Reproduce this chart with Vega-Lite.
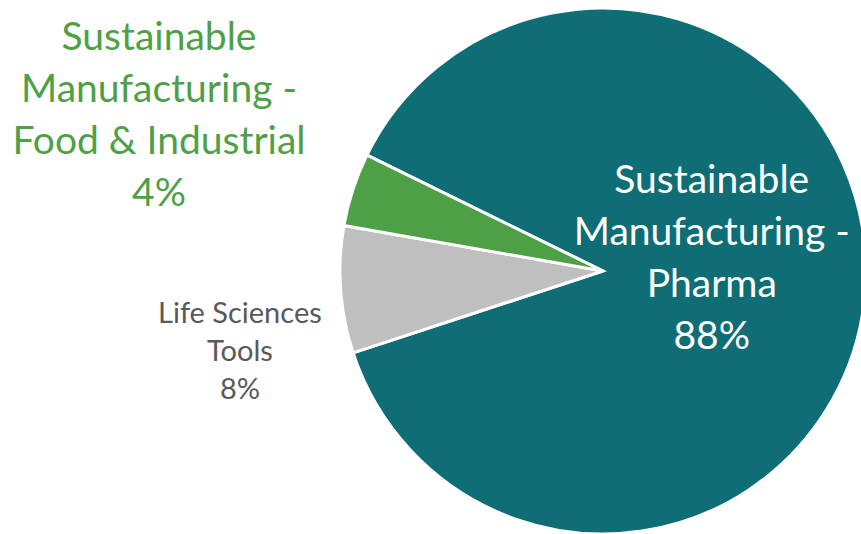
{
  "$schema": "https://vega.github.io/schema/vega-lite/v6.json",
  "width": 516,
  "height": 516,
  "autosize": {"type": "none"},
  "padding": {"left": 345, "top": 13, "right": 0, "bottom": 5},
  "background": "white",
  "view": {"stroke": null},
  "data": {
    "values": [
      {"segment": "Sustainable Manufacturing - Pharma", "value": 87.7, "label": "Sustainable\nManufacturing -\nPharma\n88%"},
      {"segment": "Life Sciences Tools", "value": 7.8, "label": "Life Sciences\nTools\n8%"},
      {"segment": "Sustainable Manufacturing - Food & Industrial", "value": 4.5, "label": "Sustainable\nManufacturing -\nFood & Industrial\n4%"}
    ]
  },
  "encoding": {
    "theta": {"field": "value", "type": "quantitative", "stack": true, "scale": {"range": [-1.1144, 5.1688]}},
    "order": {"field": "value", "sort": "descending"}
  },
  "layer": [
    {
      "mark": {"type": "arc", "outerRadius": 263, "stroke": "white", "strokeWidth": 3},
      "encoding": {
        "color": {
          "field": "segment",
          "type": "nominal",
          "legend": null,
          "scale": {
            "domain": ["Sustainable Manufacturing - Pharma", "Life Sciences Tools", "Sustainable Manufacturing - Food & Industrial"],
            "range": ["#0F6E75", "#BFBFBF", "#4EA046"]
          }
        }
      }
    },
    {
      "mark": {"type": "text", "radius": 109, "dy": -98, "font": "Lato", "fontSize": 39, "lineHeight": 52, "lineBreak": "\n", "align": "center", "baseline": "middle", "color": "white"},
      "encoding": {
        "text": {"condition": {"test": "datum.segment === 'Sustainable Manufacturing - Pharma'", "field": "label"}, "value": ""}
      }
    },
    {
      "mark": {"type": "text", "radius": 467, "dy": -88, "font": "Lato", "fontSize": 39, "lineHeight": 52, "lineBreak": "\n", "align": "center", "baseline": "middle", "color": "#4EA046"},
      "encoding": {
        "text": {"condition": {"test": "datum.segment === 'Sustainable Manufacturing - Food & Industrial'", "field": "label"}, "value": ""}
      }
    },
    {
      "mark": {"type": "text", "radius": 364, "dy": 17, "font": "Lato", "fontSize": 29, "lineHeight": 38, "lineBreak": "\n", "align": "center", "baseline": "middle", "color": "#595959"},
      "encoding": {
        "text": {"condition": {"test": "datum.segment === 'Life Sciences Tools'", "field": "label"}, "value": ""}
      }
    }
  ]
}
